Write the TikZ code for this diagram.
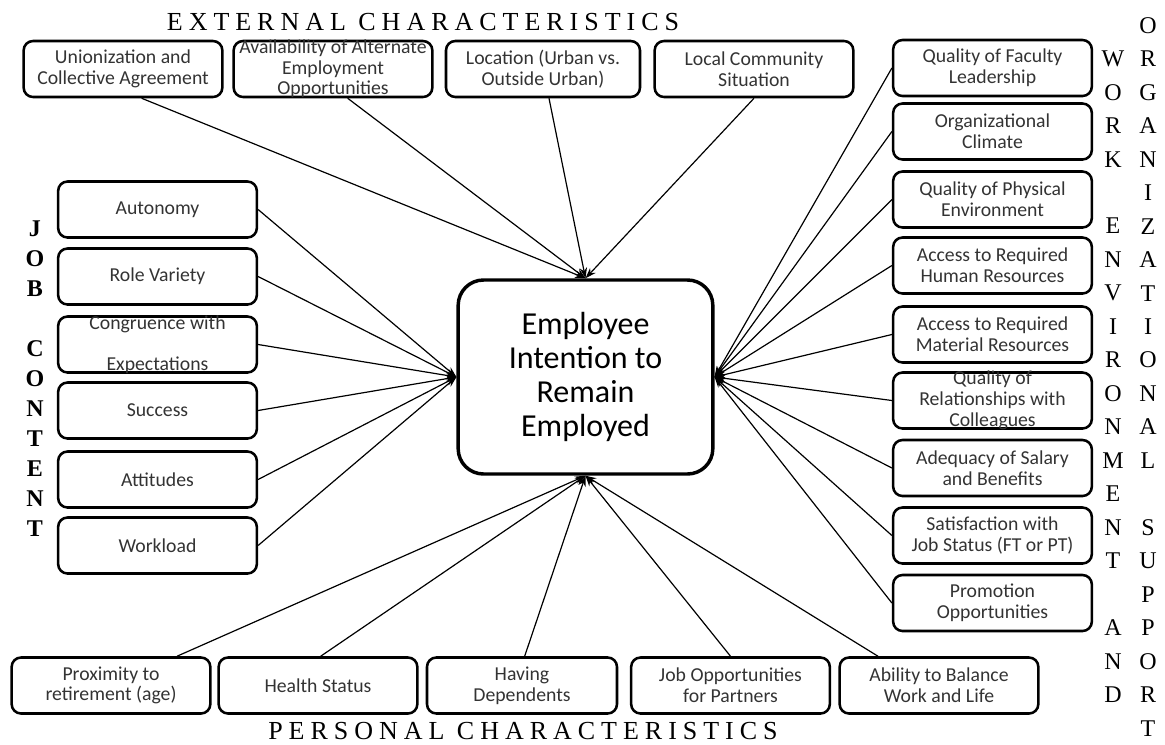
\documentclass[tikz,border=0pt]{standalone}
\usepackage{fontspec}
\setmainfont{Carlito}
\newfontfamily\capsfont[LetterSpace=23]{Liberation Serif}
\newfontfamily\columnfont{Liberation Serif}
\usetikzlibrary{arrows.meta}

\tikzset{
  factor/.style={draw, line width=1.9pt, rounded corners=7pt, minimum width=149pt, minimum height=42pt, inner sep=0pt, align=center, text=black!80, font=\fontsize{14.8}{15.5}\selectfont},
  factortext/.style={inner sep=0pt, align=center, text=black!80, font=\fontsize{14.8}{15.5}\selectfont},
  outcome/.style={draw, line width=2.6pt, rounded corners=19pt, minimum width=191pt, minimum height=145.5pt, inner sep=0pt, align=center, font=\fontsize{24}{25.5}\selectfont},
  column/.style={inner sep=0pt, text width=20pt, align=center, font=\columnfont\fontsize{18}{25.1}\selectfont},
  heading/.style={inner sep=0pt, font=\capsfont\fontsize{19.5}{20}\selectfont},
  feeds/.style={-{Stealth[length=8pt,width=5.5pt]}, line width=0.9pt},
}

\begin{document}
\begin{tikzpicture}[x=0.75pt,y=0.75pt,yscale=-1,xscale=1]
    \useasboundingbox (0,0) rectangle (1165,744);

    % Text Node
    \node[outcome] (ctr) at (585.5,377) {Employee\\Intention to\\Remain\\Employed};

    % Text Node
    \node[heading] (extern) at (423,22) {EXTERNAL CHARACTERISTICS};
    % Text Node
    \node[heading] (person) at (523,731) {PERSONAL CHARACTERISTICS};

    % Text Node
    \node[column, font=\columnfont\bfseries\fontsize{18}{22.5}\selectfont] (jobcol) at (35,379) {J\\O\\B\\[22.5pt]C\\O\\N\\T\\E\\N\\T};
    % Text Node
    \node[column] (workcol) at (1113,376.75) {W\\O\\R\\K\\[25.1pt]E\\N\\V\\I\\R\\O\\N\\M\\E\\N\\T\\[25.1pt]A\\N\\D};
    % Text Node
    \node[column] (orgcol) at (1148,376.75) {O\\R\\G\\A\\N\\I\\Z\\A\\T\\I\\O\\N\\A\\L\\[25.1pt]S\\U\\P\\P\\O\\R\\T};

    % Text Node
    \node[factor] (union) at (123,69) {Unionization and\\Collective Agreement};
    % Text Node
    \node[factor, label={[factortext]center:{Availability of Alternate\\Employment\\Opportunities}}] (altjobs) at (333,69) {};
    % Text Node
    \node[factor, minimum width=145.5pt] (location) at (543,69) {Location (Urban vs.\\Outside Urban)};
    % Text Node
    \node[factor] (community) at (754,69) {Local Community\\Situation};

    % Text Node
    \node[factor] (autonomy) at (157.5,209.5) {Autonomy};
    % Text Node
    \node[factor] (variety) at (157.5,276.5) {Role Variety};
    % Text Node
    \node[factor, label={[factortext]center:{Congruence with\\[15.5pt]Expectations}}] (congruence) at (157.5,344.5) {};
    % Text Node
    \node[factor] (success) at (157.5,410.5) {Success};
    % Text Node
    \node[factor] (attitudes) at (157.5,479.5) {Attitudes};
    % Text Node
    \node[factor] (workload) at (157.5,545.5) {Workload};

    % Text Node
    \node[factor] (leadership) at (992.5,68) {Quality of Faculty\\Leadership};
    % Text Node
    \node[factor] (climate) at (992.5,131.5) {Organizational\\Climate};
    % Text Node
    \node[factor] (physical) at (992.5,199.5) {Quality of Physical\\Environment};
    % Text Node
    \node[factor] (human) at (992.5,265.5) {Access to Required\\Human Resources};
    % Text Node
    \node[factor] (material) at (992.5,334.5) {Access to Required\\Material Resources};
    % Text Node
    \node[factor, label={[factortext]center:{Quality of\\Relationships with\\Colleagues}}] (colleagues) at (992.5,400.5) {};
    % Text Node
    \node[factor] (salary) at (992.5,468) {Adequacy of Salary\\and Benefits};
    % Text Node
    \node[factor] (status) at (992.5,535.5) {Satisfaction with\\Job Status (FT or PT)};
    % Text Node
    \node[factor] (promotion) at (992.5,603) {Promotion\\Opportunities};

    % Text Node
    \node[factor] (retirement) at (111,685.5) {Proximity to\\retirement (age)};
    % Text Node
    \node[factor] (health) at (318,685.5) {Health Status};
    % Text Node
    \node[factor, minimum width=142.5pt] (dependents) at (522,685.5) {Having\\Dependents};
    % Text Node
    \node[factor] (partners) at (730.5,685.5) {Job Opportunities\\for Partners};
    % Text Node
    \node[factor] (balance) at (939,685.5) {Ability to Balance\\Work and Life};

    %Straight Lines
    \draw[feeds] ([xshift=14pt]union.south) -- (ctr.north);
    \draw[feeds] ([xshift=11pt]altjobs.south) -- (ctr.north);
    \draw[feeds] ([xshift=4.5pt]location.south) -- (ctr.north);
    \draw[feeds] (community.south) -- (ctr.north);

    %Straight Lines
    \draw[feeds] (autonomy.east) -- (ctr.west);
    \draw[feeds] (variety.east) -- (ctr.west);
    \draw[feeds] (congruence.east) -- (ctr.west);
    \draw[feeds] (success.east) -- (ctr.west);
    \draw[feeds] (attitudes.east) -- (ctr.west);
    \draw[feeds] (workload.east) -- (ctr.west);

    %Straight Lines
    \draw[feeds] (leadership.west) -- (ctr.east);
    \draw[feeds] (climate.west) -- (ctr.east);
    \draw[feeds] (physical.west) -- (ctr.east);
    \draw[feeds] (human.west) -- (ctr.east);
    \draw[feeds] (material.west) -- (ctr.east);
    \draw[feeds] (colleagues.west) -- (ctr.east);
    \draw[feeds] (salary.west) -- (ctr.east);
    \draw[feeds] (status.west) -- (ctr.east);
    \draw[feeds] (promotion.west) -- (ctr.east);

    %Straight Lines
    \draw[feeds] ([xshift=49.5pt]retirement.north) -- (ctr.south);
    \draw[feeds] ([xshift=2pt]health.north) -- (ctr.south);
    \draw[feeds] ([xshift=2pt]dependents.north) -- (ctr.south);
    \draw[feeds] (partners.north) -- (ctr.south);
    \draw[feeds] ([xshift=-45.75pt]balance.north) -- (ctr.south);

\end{tikzpicture}
\end{document}
